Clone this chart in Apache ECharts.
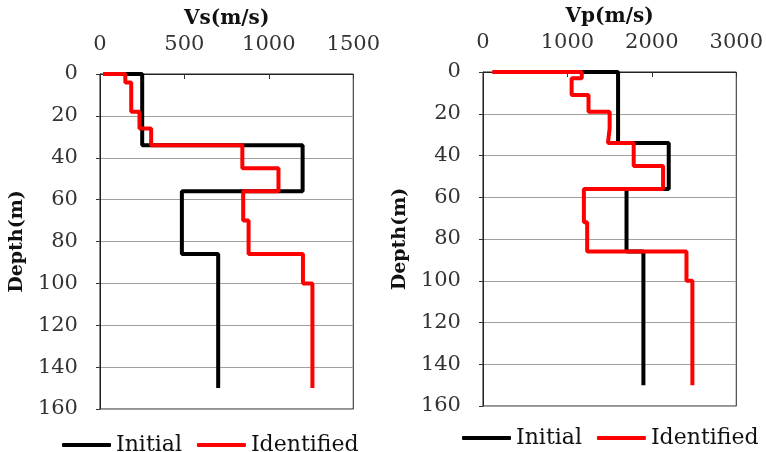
<!DOCTYPE html>
<html>
<head>
<meta charset="utf-8">
<script src="https://cdn.jsdelivr.net/npm/echarts@6/dist/echarts.min.js"></script>
<style>
  html, body { margin: 0; padding: 0; background: #fff; }
  .pane { position: absolute; top: 0; width: 383px; height: 452px; }
  #vs { left: 0; }
  #vp { left: 383px; }
</style>
</head>
<body>
<div id="vs" class="pane"></div>
<div id="vp" class="pane"></div>
<script>
// layer tops (m) and velocities (m/s); each profile ends at 150 m
const depthBottom = 150;

const vsInitialTops = [0, 34, 56, 86];
const vsInitialVels = [250, 1200, 485, 700];
const vsInitialSurface = 150;

const vsIdentTops = [0, 4, 18, 26, 34, 45, 56, 70, 86, 100];
const vsIdentVels = [150, 185, 234, 303, 843, 1057, 848, 880, 1202, 1258];
const vsIdentSurface = 18;

const vpInitialTops = [0, 34, 56, 86];
const vpInitialVels = [1600, 2200, 1700, 1900];
const vpInitialSurface = 1170;

const vpIdentTops = [0, 3, 11, 19, 27, 34, 45, 56, 72, 86, 100];
const vpIdentVels = [1170, 1050, 1250, 1500, 1480, 1785, 2133, 1195, 1234, 2410, 2480];
const vpIdentSurface = 110;

// turn layers into a stepped profile: [velocity, depth] points
function profile(surface, tops, vels) {
  const pts = [[surface, 0]];
  for (let i = 0; i < tops.length; i++) {
    const bottom = i + 1 < tops.length ? tops[i + 1] : depthBottom;
    pts.push([vels[i], tops[i]]);
    pts.push([vels[i], bottom]);
  }
  return pts;
}

const font = { fontFamily: "DejaVu Serif" };

function makeOption(p) {
  return {
    animation: false,
    backgroundColor: "#fff",
    grid: { left: p.left, top: p.top, width: p.width, height: p.height, show: true, borderColor: "#222", borderWidth: 1 },
    xAxis: {
      type: "value", position: "top", min: 0, max: p.xMax, interval: p.xStep,
      name: p.xName, nameLocation: "middle",
      nameTextStyle: Object.assign({ fontSize: 20, fontWeight: "bold", color: "#111" }, font),
      axisLine: { show: true, lineStyle: { color: "#222" } },
      axisTick: { show: true, inside: true, length: 5, lineStyle: { color: "#333" } },
      axisLabel: Object.assign({ fontSize: 21, color: "#333", padding: [0, 0, 11, 0], formatter: (v) => String(v) }, font),
      splitLine: { show: false },
    },
    yAxis: {
      type: "value", inverse: true, min: 0, max: 160, interval: 20,
      name: "Depth(m)", nameLocation: "middle",
      nameTextStyle: Object.assign({ fontSize: 19, fontWeight: "bold", color: "#111" }, font),
      axisLine: { show: true, lineStyle: { color: "#222" } },
      axisTick: { show: true, length: 4, lineStyle: { color: "#333" } },
      axisLabel: Object.assign({ fontSize: 21, color: "#333", padding: [0, 14, 0, 0] }, font),
      splitLine: { show: true, lineStyle: { color: "#a0a0a0" } },
    },
    legend: {
      data: ["Initial", "Identified"], left: p.legendLeft, top: p.legendTop,
      icon: "roundRect", itemWidth: 49, itemHeight: 4, itemGap: 15,
      textStyle: Object.assign({ fontSize: 22, color: "#111" }, font),
    },
    series: [
      { name: "Initial", type: "line", symbol: "none", data: p.initial, lineStyle: { color: "#000", width: 4 }, itemStyle: { color: "#000" } },
      { name: "Identified", type: "line", symbol: "none", data: p.identified, lineStyle: { color: "#ff0000", width: 4 }, itemStyle: { color: "#ff0000" } },
    ],
  };
}

echarts.init(document.getElementById("vs")).setOption(makeOption({
  left: 87, top: 74, width: 269, height: 335,
  xName: "Vs(m/s)", xMax: 1500, xStep: 500,
  legendLeft: 57, legendTop: 429,
  initial: profile(vsInitialSurface, vsInitialTops, vsInitialVels),
  identified: profile(vsIdentSurface, vsIdentTops, vsIdentVels),
}));

echarts.init(document.getElementById("vp")).setOption(makeOption({
  left: 95, top: 72, width: 260, height: 334,
  xName: "Vp(m/s)", xMax: 3000, xStep: 1000,
  legendLeft: 74, legendTop: 422,
  initial: profile(vpInitialSurface, vpInitialTops, vpInitialVels),
  identified: profile(vpIdentSurface, vpIdentTops, vpIdentVels),
}));
</script>
</body>
</html>
